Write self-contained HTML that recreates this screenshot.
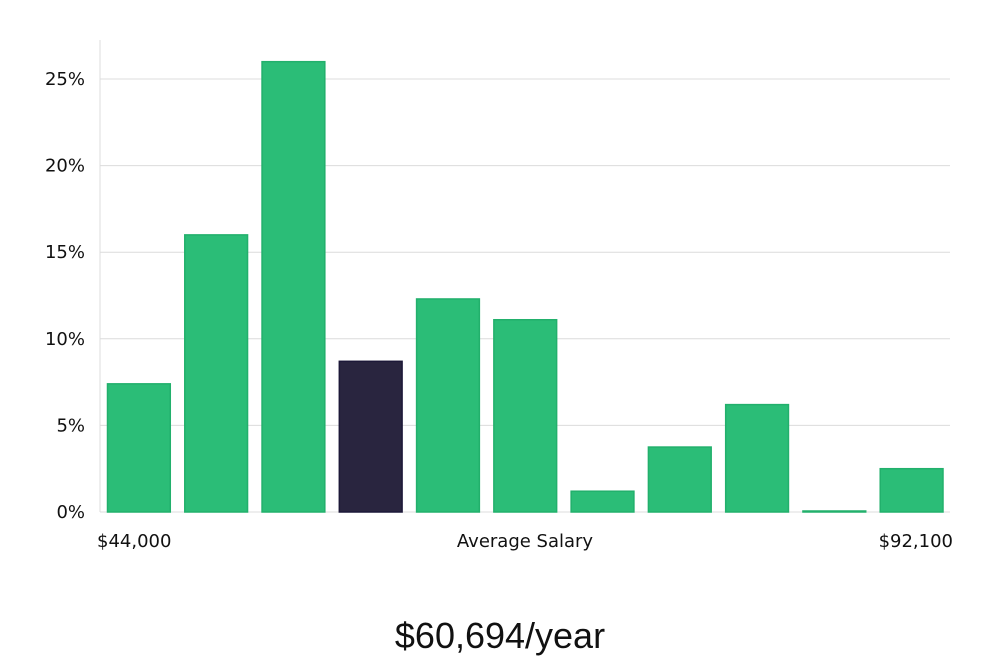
<!DOCTYPE html>
<html><head><meta charset="utf-8"><style>
html,body{margin:0;padding:0;background:#fff;}
body{width:1000px;height:660px;overflow:hidden;font-family:"DejaVu Sans","Liberation Sans",sans-serif;}
</style></head><body>
<svg id="chart" width="1000" height="660" xmlns="http://www.w3.org/2000/svg">
<g id="grid"></g>
<g id="bars"></g>
<g id="yticks"></g>
<line x1="100" y1="40" x2="100" y2="512" stroke="#dcdcdc" stroke-width="1"/>
<text x="97" y="547" font-size="18" fill="#111">$44,000</text>
<text x="525" y="547" font-size="18" fill="#111" text-anchor="middle">Average Salary</text>
<text x="953" y="547" font-size="18" fill="#111" text-anchor="end">$92,100</text>
<text x="500" y="648" font-size="36" fill="#111" text-anchor="middle" font-family="Liberation Sans, sans-serif">$60,694/year</text>
</svg>
<script>
const values = [7.4, 16.0, 26.0, 8.7, 12.3, 11.1, 1.2, 3.75, 6.2, 0.05, 2.5];
const highlight = [false, false, false, true, false, false, false, false, false, false, false];
const ticks = [0, 5, 10, 15, 20, 25];
const tickLabels = ["0%", "5%", "10%", "15%", "20%", "25%"];
const NS = "http://www.w3.org/2000/svg";
const x0 = 100, x1 = 950, yBase = 512, pxPerUnit = 17.32;
const y = v => yBase - v * pxPerUnit;
const band = (x1 - x0) / values.length;
const grid = document.getElementById('grid'), bars = document.getElementById('bars'), yt = document.getElementById('yticks');
ticks.forEach((t, i) => {
  const l = document.createElementNS(NS, 'line');
  
  
  l.setAttribute('x1', x0); l.setAttribute('x2', x1);
  l.setAttribute('y1', y(t)); l.setAttribute('y2', y(t));
  l.setAttribute('stroke', '#dcdcdc'); l.setAttribute('stroke-width', '1');
  grid.appendChild(l);
  const tx = document.createElementNS(NS, 'text');
  
  
  tx.setAttribute('x', 85); tx.setAttribute('y', y(t) + 6);
  tx.setAttribute('text-anchor', 'end'); tx.setAttribute('font-size', '18'); tx.setAttribute('fill', '#111');
  tx.textContent = tickLabels[i];
  yt.appendChild(tx);
});
values.forEach((v, i) => {
  const r = document.createElementNS(NS, 'rect');
  
  
  const h = Math.max(v * pxPerUnit, 1);
  r.setAttribute('x', x0 + i * band + 7.5);
  r.setAttribute('width', band - 14.5);
  r.setAttribute('y', yBase - h);
  r.setAttribute('height', h);
  r.setAttribute('fill', highlight[i] ? '#29253f' : '#2bbd77');
  r.setAttribute('stroke', highlight[i] ? '#1c1838' : '#22b06c');
  r.setAttribute('stroke-width', '1.5');
  bars.appendChild(r);
});
</script>
</body></html>
